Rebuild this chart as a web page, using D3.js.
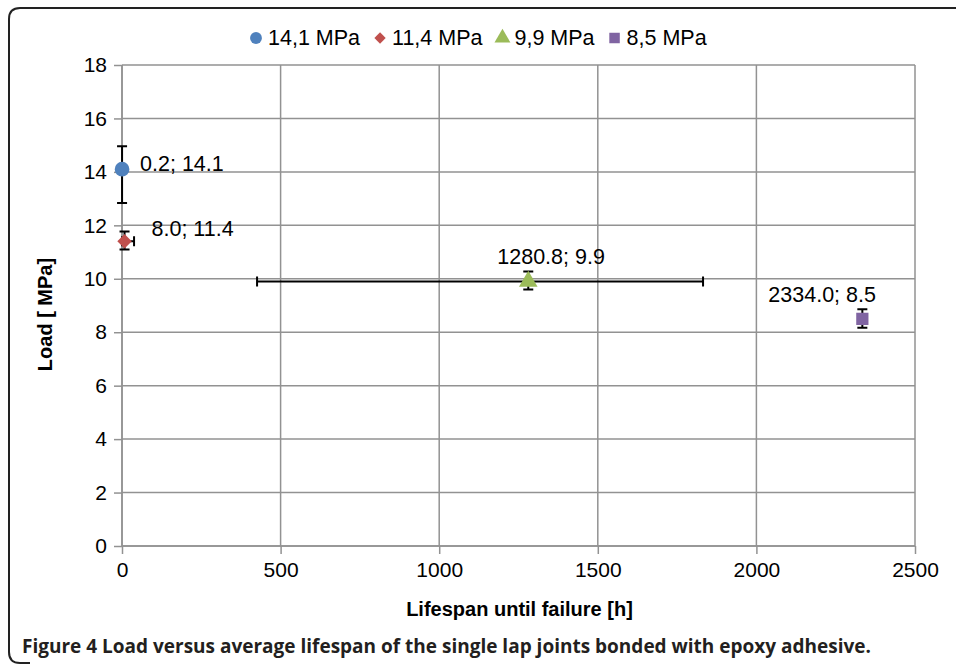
<!DOCTYPE html>
<meta charset="utf-8">
<style>
body { margin: 0; background: #fff; }
text { font-family: "Liberation Sans", Arial, sans-serif; fill: #000; }
.grid line { stroke: #929292; stroke-width: 1.5; }
.axis path, .axis line { stroke: #929292; stroke-width: 1.5; }
.axis text { font-size: 21px; }
.err { stroke: #000; stroke-width: 2; fill: none; }
</style>
<body>
<div id="chart"></div>
<script src="https://d3js.org/d3.v7.min.js"></script>
<script>
// data
var series = ["14,1 MPa", "11,4 MPa", "9,9 MPa", "8,5 MPa"];
var life = [0.2, 8.0, 1280.8, 2334.0];
var load = [14.1, 11.4, 9.9, 8.5];
var lifeErrMinus = [0, 8, 855, 0];
var lifeErrPlus = [0, 30, 551, 0];
var loadErrMinus = [1.26, 0.3, 0.3, 0.33];
var loadErrPlus = [0.86, 0.37, 0.37, 0.36];
var colors = ["#4F81BD", "#C0504D", "#9BBB59", "#8064A2"];
var xTicks = [0, 500, 1000, 1500, 2000, 2500];
var yTicks = [0, 2, 4, 6, 8, 10, 12, 14, 16, 18];

var W = 956, H = 666;
var margin = {top: 65, right: 41, bottom: 120, left: 122},
    width = W - margin.left - margin.right,
    height = H - margin.top - margin.bottom;

var root = d3.select("#chart").append("svg").attr("width", W).attr("height", H);

// outer frame with rounded corners
root.append("path")
  .attr("d", "M" + (W + 5) + ",8 H20 Q9,8 9,19 V652 Q9,663 20,663 H30")
  .attr("fill", "none").attr("stroke", "#222").attr("stroke-width", 2);

var svg = root.append("g").attr("transform", "translate(" + margin.left + "," + margin.top + ")");

var x = d3.scaleLinear().domain([0, 2500]).range([0, width]);
var y = d3.scaleLinear().domain([0, 18]).range([height, 0]);

// grid
svg.append("g").attr("class", "grid")
  .selectAll("line").data(yTicks).enter().append("line")
  .attr("x1", 0).attr("x2", width)
  .attr("y1", function(d) { return y(d); }).attr("y2", function(d) { return y(d); });
svg.append("g").attr("class", "grid")
  .selectAll("line").data(xTicks).enter().append("line")
  .attr("y1", 0).attr("y2", height)
  .attr("x1", function(d) { return x(d); }).attr("x2", function(d) { return x(d); });

// axes
var xa = svg.append("g").attr("class", "axis").attr("transform", "translate(0," + height + ")")
  .call(d3.axisBottom(x).tickValues(xTicks).tickFormat(d3.format("d")).tickSize(8).tickPadding(8).tickSizeOuter(0));
var ya = svg.append("g").attr("class", "axis")
  .call(d3.axisLeft(y).tickValues(yTicks).tickFormat(d3.format("d")).tickSize(8).tickPadding(7).tickSizeOuter(0));
xa.select(".domain").remove();
ya.select(".domain").remove();
svg.append("line").attr("x1", 0).attr("x2", width).attr("y1", height).attr("y2", height)
  .attr("stroke", "#929292").attr("stroke-width", 1.5);
svg.append("line").attr("x1", 0).attr("x2", 0).attr("y1", 0).attr("y2", height)
  .attr("stroke", "#929292").attr("stroke-width", 1.5);

svg.append("text").attr("x", width / 2 + 1).attr("y", height + 70)
  .attr("text-anchor", "middle").style("font-size", "20px").style("font-weight", "bold")
  .text("Lifespan until failure [h]");
svg.append("text").attr("transform", "translate(-70," + (height / 2 + 9) + ") rotate(-90)")
  .attr("text-anchor", "middle").style("font-size", "20px").style("font-weight", "bold")
  .text("Load [ MPa]");

// error bars
var eb = svg.append("g");
var cap = 5;
life.forEach(function(v, i) {
  var cx = x(v), cy = y(load[i]);
  if (loadErrMinus[i] || loadErrPlus[i]) {
    var y1 = y(load[i] + loadErrPlus[i]), y2 = y(load[i] - loadErrMinus[i]);
    eb.append("path").attr("class", "err")
      .attr("d", "M" + cx + "," + y1 + "V" + y2 +
                 "M" + (cx - cap) + "," + y1 + "H" + (cx + cap) +
                 "M" + (cx - cap) + "," + y2 + "H" + (cx + cap));
  }
  if (lifeErrMinus[i] || lifeErrPlus[i]) {
    var x1 = x(v - lifeErrMinus[i]), x2 = x(v + lifeErrPlus[i]);
    eb.append("path").attr("class", "err")
      .attr("d", "M" + x1 + "," + cy + "H" + x2 +
                 "M" + x1 + "," + (cy - cap) + "V" + (cy + cap) +
                 "M" + x2 + "," + (cy - cap) + "V" + (cy + cap));
  }
});

// markers; the diamond is a square turned by 45 degrees
var shapes = [d3.symbolCircle, d3.symbolSquare, d3.symbolTriangle, d3.symbolSquare];
var rot = [0, 45, 0, 0];
var sizes = [170, 105, 150, 150];
var legSizes = [110, 64, 110, 110];

svg.selectAll(".pt").data(life).enter().append("path")
  .attr("class", "pt")
  .attr("transform", function(d, i) { return "translate(" + x(d) + "," + y(load[i]) + ") rotate(" + rot[i] + ")"; })
  .attr("d", function(d, i) { return d3.symbol().type(shapes[i]).size(sizes[i])(); })
  .attr("fill", function(d, i) { return colors[i]; });

// data labels
var labelPos = [[18, 2], [27, -5], [-31, -17], [-94, -17]];
svg.selectAll(".lbl").data(life).enter().append("text")
  .attr("class", "lbl")
  .attr("x", function(d, i) { return x(d) + labelPos[i][0]; })
  .attr("y", function(d, i) { return y(load[i]) + labelPos[i][1]; })
  .style("font-size", "21.5px")
  .text(function(d, i) { return d.toFixed(1) + "; " + load[i].toFixed(1); });

// legend
var leg = root.append("g").attr("transform", "translate(0,38)");
var lx = 249;
series.forEach(function(s, i) {
  var g = leg.append("g").attr("transform", "translate(" + lx + ",0)");
  g.append("path").attr("transform", "translate(7,0) rotate(" + rot[i] + ")")
    .attr("d", d3.symbol().type(shapes[i]).size(legSizes[i])())
    .attr("fill", colors[i]);
  var t = g.append("text").attr("x", 19).attr("y", 7).style("font-size", "21.5px").text(s);
  lx += 19 + t.node().getComputedTextLength() + 13;
});

// caption
root.append("text").attr("x", 22).attr("y", 653)
  .style("font-family", "'Open Sans', sans-serif").style("font-weight", "bold")
  .style("font-size", "19px").style("fill", "#231f20")
  .text("Figure 4 Load versus average lifespan of the single lap joints bonded with epoxy adhesive.");
</script>
</body>
